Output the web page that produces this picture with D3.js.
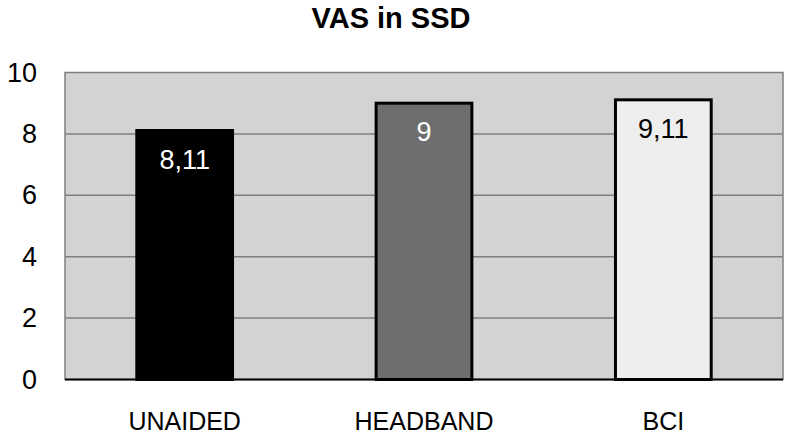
<!DOCTYPE html>
<html>
<head>
<meta charset="utf-8">
<script src="https://cdn.jsdelivr.net/npm/d3@7"></script>
<style>
  body { margin: 0; background: #fff; }
  text { font-family: "Liberation Sans", Arial, sans-serif; }
</style>
</head>
<body>
<div class="chart"></div>
<script>
// chart data
const categories = ["UNAIDED", "HEADBAND", "BCI"];
const values = [8.11, 9, 9.11];
const valueLabels = ["8,11", "9", "9,11"];
const barColors = ["#000000", "#6e6e6e", "#eeeeee"];
const labelColors = ["#ffffff", "#ffffff", "#000000"];
const yTicks = [0, 2, 4, 6, 8, 10];

// size of the chart
const w = 787, h = 437;
const margin = { top: 72.5, right: 4, bottom: 57.5, left: 65 };

const svg = d3.select("div.chart")
    .append("svg")
    .attr("width", w)
    .attr("height", h);

// scales
const xScale = d3.scaleBand()
    .domain(categories)
    .range([margin.left, w - margin.right])
    .paddingInner(0.6)
    .paddingOuter(0.3);

const yScale = d3.scaleLinear()
    .domain([0, 10])
    .range([h - margin.bottom, margin.top]);

// plot background
svg.append("rect")
    .attr("x", margin.left)
    .attr("y", margin.top)
    .attr("width", w - margin.right - margin.left)
    .attr("height", h - margin.bottom - margin.top)
    .attr("fill", "#d3d3d3")
    .attr("stroke", "#808080")
    .attr("stroke-width", 1.5);

// gridlines
svg.append("g")
    .selectAll("line")
    .data(yTicks.slice(1, -1))
    .enter()
    .append("line")
    .attr("x1", margin.left)
    .attr("x2", w - margin.right)
    .attr("y1", d => yScale(d))
    .attr("y2", d => yScale(d))
    .attr("stroke", "#7f7f7f")
    .attr("stroke-width", 1.5);

// y axis labels
const yAxis = d3.axisLeft(yScale).tickValues(yTicks).tickSize(0).tickPadding(28);
svg.append("g")
    .attr("transform", "translate(" + margin.left + ",0)")
    .call(yAxis)
    .call(g => g.select(".domain").remove())
    .selectAll("text")
    .attr("font-size", 27)
    .attr("fill", "#000")
    .style("font-family", "Liberation Sans, Arial, sans-serif");

// bars
svg.selectAll(".bar")
    .data(values)
    .enter()
    .append("rect")
    .attr("class", "bar")
    .attr("x", (d, i) => xScale(categories[i]))
    .attr("y", d => yScale(d))
    .attr("width", xScale.bandwidth())
    .attr("height", d => yScale(0) - yScale(d))
    .attr("fill", (d, i) => barColors[i])
    .attr("stroke", "#000")
    .attr("stroke-width", 3);

// bottom axis line
svg.append("line")
    .attr("x1", margin.left)
    .attr("x2", w - margin.right)
    .attr("y1", yScale(0))
    .attr("y2", yScale(0))
    .attr("stroke", "#000")
    .attr("stroke-width", 2);

// value labels
svg.selectAll(".val")
    .data(values)
    .enter()
    .append("text")
    .attr("class", "val")
    .attr("x", (d, i) => xScale(categories[i]) + xScale.bandwidth() / 2)
    .attr("y", d => yScale(d) + 38)
    .attr("text-anchor", "middle")
    .attr("font-size", 27)
    .attr("fill", (d, i) => labelColors[i])
    .text((d, i) => valueLabels[i]);

// category labels
svg.selectAll(".cat")
    .data(categories)
    .enter()
    .append("text")
    .attr("class", "cat")
    .attr("x", d => xScale(d) + xScale.bandwidth() / 2)
    .attr("y", 430)
    .attr("text-anchor", "middle")
    .attr("font-size", 25)
    .attr("fill", "#000")
    .text(d => d);

// title
svg.append("text")
    .attr("x", 391)
    .attr("y", 28)
    .attr("text-anchor", "middle")
    .attr("font-size", 29)
    .attr("font-weight", "bold")
    .text("VAS in SSD");
</script>
</body>
</html>
